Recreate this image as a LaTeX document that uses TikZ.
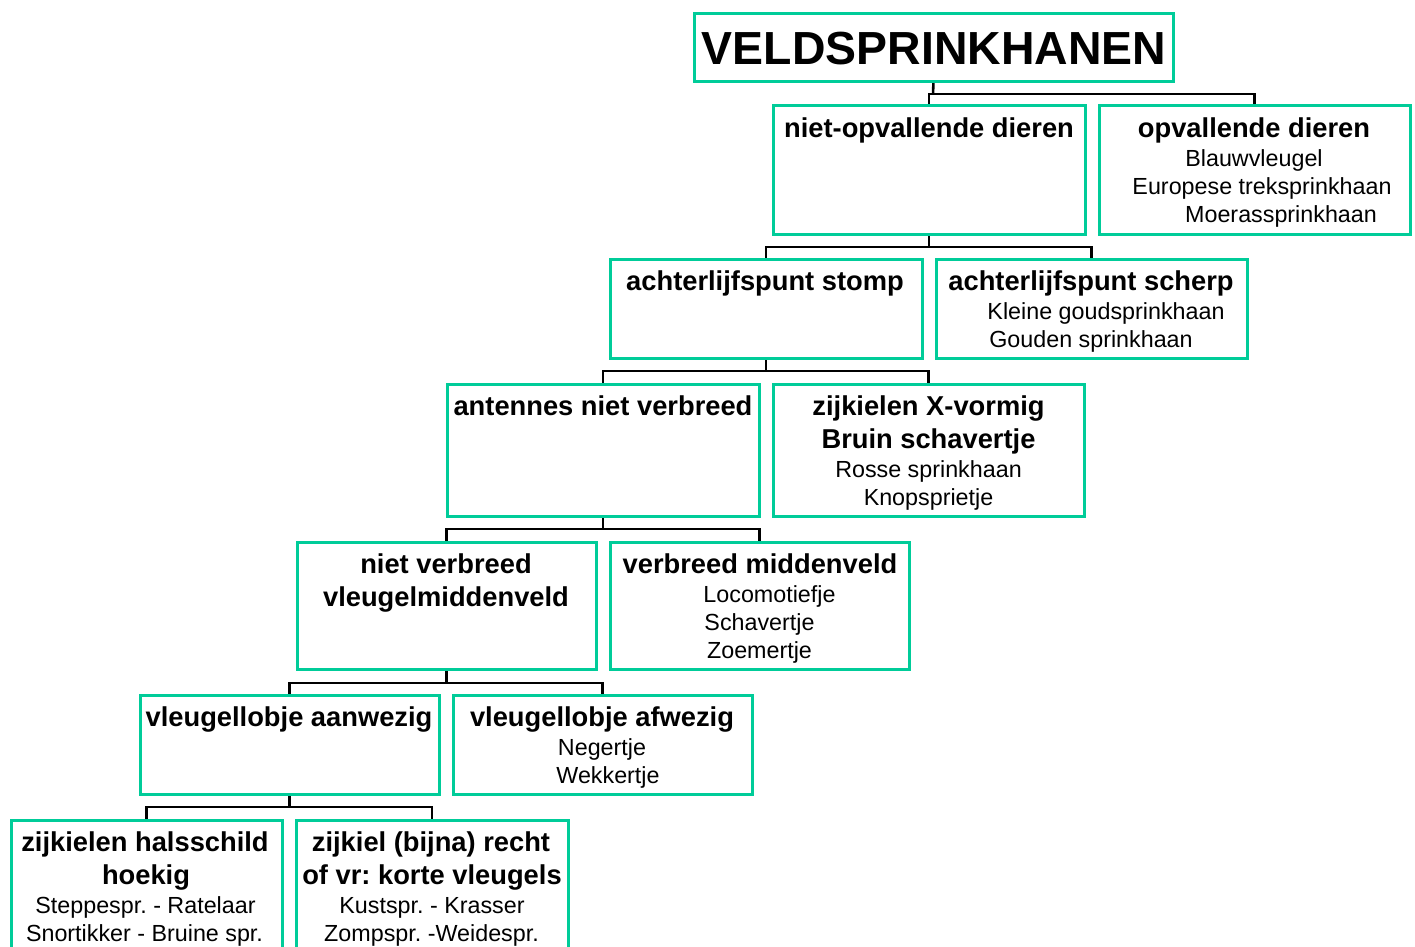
\documentclass[tikz,border=0pt]{standalone}
\usepackage{fontspec}
\setmainfont{Liberation Sans}
\frenchspacing
\usetikzlibrary{backgrounds}
\definecolor{boxgreen}{RGB}{0,204,153}
\tikzset{
  box/.style={draw=boxgreen, line width=3pt, inner sep=0pt, outer sep=0pt, anchor=north west},
  conn/.style={draw=black, line width=2.6pt},
  hd/.style={font=\fontsize{27.3}{32}\selectfont\bfseries, inner sep=0pt, anchor=base},
  sp/.style={font=\fontsize{23.3}{28}\selectfont, inner sep=0pt, anchor=base},
  ttl/.style={font=\fontsize{46.4}{50}\selectfont\bfseries, inner sep=0pt, anchor=base}
}
\begin{document}
\begin{tikzpicture}[x=1pt,y=-1pt]
\useasboundingbox (0,0) rectangle (1415,946);
\clip (0,0) rectangle (1415,946);
% boxes
\node[box, minimum width=479pt, minimum height=68pt] (title) at (694,13) {};
\node[box, minimum width=312pt, minimum height=129pt] (b1) at (773,105) {};
\node[box, minimum width=311pt, minimum height=129pt] (b2) at (1099,105) {};
\node[box, minimum width=312pt, minimum height=99pt] (b3) at (610,259) {};
\node[box, minimum width=311pt, minimum height=99pt] (b4) at (936,259) {};
\node[box, minimum width=312pt, minimum height=132pt] (b5) at (447,384) {};
\node[box, minimum width=311pt, minimum height=132pt] (b6) at (773,384) {};
\node[box, minimum width=299pt, minimum height=127pt] (b7) at (297,542) {};
\node[box, minimum width=299pt, minimum height=127pt] (b8) at (610,542) {};
\node[box, minimum width=299pt, minimum height=99pt] (b9) at (140,695) {};
\node[box, minimum width=299pt, minimum height=99pt] (b10) at (453,695) {};
\node[box, minimum width=271pt, minimum height=170pt] (b11) at (11,820) {};
\node[box, minimum width=272pt, minimum height=170pt] (b12) at (296,820) {};
% bus coordinates
\coordinate (j1) at (933,94);
\coordinate (j2) at (929,247);
\coordinate (j3) at (766,371);
\coordinate (j4) at (603,529);
\coordinate (j5) at (446.5,683);
\coordinate (j6) at (289.5,807);
% connectors
\begin{scope}[on background layer]
\draw[conn] (title.south) -- (j1);
\draw[conn] (b1.north) |- (j1) -| (b2.north);
\draw[conn] (b1.south) -- (j2);
\draw[conn] (b3.north) |- (j2) -| (b4.north);
\draw[conn] (b3.south) -- (j3);
\draw[conn] (b5.north) |- (j3) -| (b6.north);
\draw[conn] (b5.south) -- (j4);
\draw[conn] (b7.north) |- (j4) -| (b8.north);
\draw[conn] (b7.south) -- (j5);
\draw[conn] (b9.north) |- (j5) -| (b10.north);
\draw[conn] (b9.south) -- (j6);
\draw[conn] (b11.north) |- (j6) -| (b12.north);
\end{scope}
% texts
\node[ttl] (tt) at (934,64) {VELDSPRINKHANEN};
\node[hd] (t1) at (929,137) {niet-opvallende dieren};
\node[hd] (t2) at (1254,137) {opvallende dieren};
\node[sp] (t2a) at (1254,166) {Blauwvleugel};
\node[sp] (t2b) at (1262,194) {Europese treksprinkhaan};
\node[sp] (t2c) at (1281,222) {Moerassprinkhaan};
\node[hd] (t3) at (765,290) {achterlijfspunt stomp};
\node[hd] (t4) at (1091,290) {achterlijfspunt scherp};
\node[sp] (t4a) at (1106,319) {Kleine goudsprinkhaan};
\node[sp] (t4b) at (1091,347) {Gouden sprinkhaan};
\node[hd] (t5) at (603,415) {antennes niet verbreed};
\node[hd] (t6) at (928.5,415) {zijkielen X-vormig};
\node[hd] (t6a) at (928.5,448) {Bruin schavertje};
\node[sp] (t6b) at (928.5,477) {Rosse sprinkhaan};
\node[sp] (t6c) at (928.5,505) {Knopsprietje};
\node[hd] (t7) at (446,573) {niet verbreed};
\node[hd] (t7a) at (446,606) {vleugelmiddenveld};
\node[hd] (t8) at (760,573) {verbreed middenveld};
\node[sp] (t8a) at (769.5,602) {Locomotiefje};
\node[sp] (t8b) at (759.5,630) {Schavertje};
\node[sp] (t8c) at (759.5,658) {Zoemertje};
\node[hd] (t9) at (289,726) {vleugellobje aanwezig};
\node[hd] (t10) at (602,726) {vleugellobje afwezig};
\node[sp] (t10a) at (602,755) {Negertje};
\node[sp] (t10b) at (608,783) {Wekkertje};
\node[hd] (t11) at (145,851) {zijkielen halsschild};
\node[hd] (t11a) at (146,884) {hoekig};
\node[sp] (t11b) at (145.5,913) {Steppespr. - Ratelaar};
\node[sp] (t11c) at (144.5,941) {Snortikker - Bruine spr.};
\node[hd] (t12) at (431,851) {zijkiel (bijna) recht};
\node[hd] (t12a) at (432,884) {of vr: korte vleugels};
\node[sp] (t12b) at (432,913) {Kustspr. - Krasser};
\node[sp] (t12c) at (431.5,941) {Zompspr. -Weidespr.};
\end{tikzpicture}
\end{document}
